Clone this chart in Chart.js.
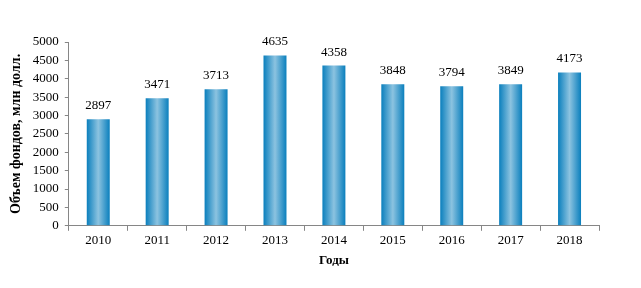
<!DOCTYPE html>
<html>
<head>
<meta charset="utf-8">
<script src="https://cdn.jsdelivr.net/npm/chart.js@4"></script>
<style>
  html, body { margin: 0; padding: 0; background: #fff; }
  #wrap { width: 641px; height: 288px; }
</style>
</head>
<body>
<div id="wrap"><canvas id="chart"></canvas></div>
<script>
// Years and fund volumes (mln USD)
const years = ["2010", "2011", "2012", "2013", "2014", "2015", "2016", "2017", "2018"];
const volumes = [2897, 3471, 3713, 4635, 4358, 3848, 3794, 3849, 4173];

const BAR_PCT = 0.39;
const FONT = "'Liberation Serif', 'Times New Roman', serif";

// Cylinder-like horizontal gradient for each bar
function barGradient(context) {
  const chart = context.chart;
  const xScale = chart.scales.x;
  if (!xScale || !chart.chartArea) return "#1a8ac6";
  const center = xScale.getPixelForValue(context.dataIndex);
  const w = (xScale.width / years.length) * BAR_PCT;
  const g = chart.ctx.createLinearGradient(center - w / 2, 0, center + w / 2, 0);
  g.addColorStop(0, "#0a7fbd");
  g.addColorStop(0.5, "#8cc3e0");
  g.addColorStop(1, "#0a7fbd");
  return g;
}

// Value labels above bars
const valueLabels = {
  id: "valueLabels",
  afterDatasetsDraw(chart) {
    const ctx = chart.ctx;
    const meta = chart.getDatasetMeta(0);
    ctx.save();
    ctx.font = "13px " + FONT;
    ctx.fillStyle = "#000";
    ctx.textAlign = "center";
    ctx.textBaseline = "bottom";
    meta.data.forEach((bar, i) => {
      ctx.fillText(String(volumes[i]), bar.x, bar.y - 7);
    });
    ctx.restore();
  },
};

new Chart(document.getElementById("chart"), {
  type: "bar",
  data: {
    labels: years,
    datasets: [
      {
        data: volumes,
        backgroundColor: barGradient,
        borderWidth: 0,
        barPercentage: BAR_PCT,
        categoryPercentage: 1,
      },
    ],
  },
  options: {
    responsive: true,
    maintainAspectRatio: false,
    animation: false,
    layout: { padding: { top: 42, right: 42, bottom: 16, left: 4 } },
    plugins: {
      legend: { display: false },
      tooltip: { enabled: false },
    },
    scales: {
      x: {
        offset: true,
        grid: {
          display: true,
          drawOnChartArea: false,
          drawTicks: true,
          tickLength: 5,
          color: "#868686",
          offset: true,
        },
        border: { color: "#868686" },
        ticks: { color: "#000", font: { family: FONT, size: 13 }, padding: 2 },
        title: {
          display: true,
          text: "Годы",
          color: "#000",
          font: { family: FONT, size: 13, weight: "bold" },
          padding: { top: 2 },
        },
      },
      y: {
        min: 0,
        max: 5000,
        ticks: {
          stepSize: 500,
          autoSkip: false,
          color: "#000",
          font: { family: FONT, size: 13 },
          padding: 6,
          callback: (v) => String(v),
        },
        grid: {
          display: true,
          drawOnChartArea: false,
          drawTicks: true,
          tickLength: 4,
          color: "#868686",
        },
        border: { color: "#868686" },
        title: {
          display: true,
          text: "Объем фондов, млн долл.",
          color: "#000",
          font: { family: FONT, size: 14, weight: "bold" },
          padding: { bottom: 2 },
        },
      },
    },
  },
  plugins: [valueLabels],
});
</script>
</body>
</html>
